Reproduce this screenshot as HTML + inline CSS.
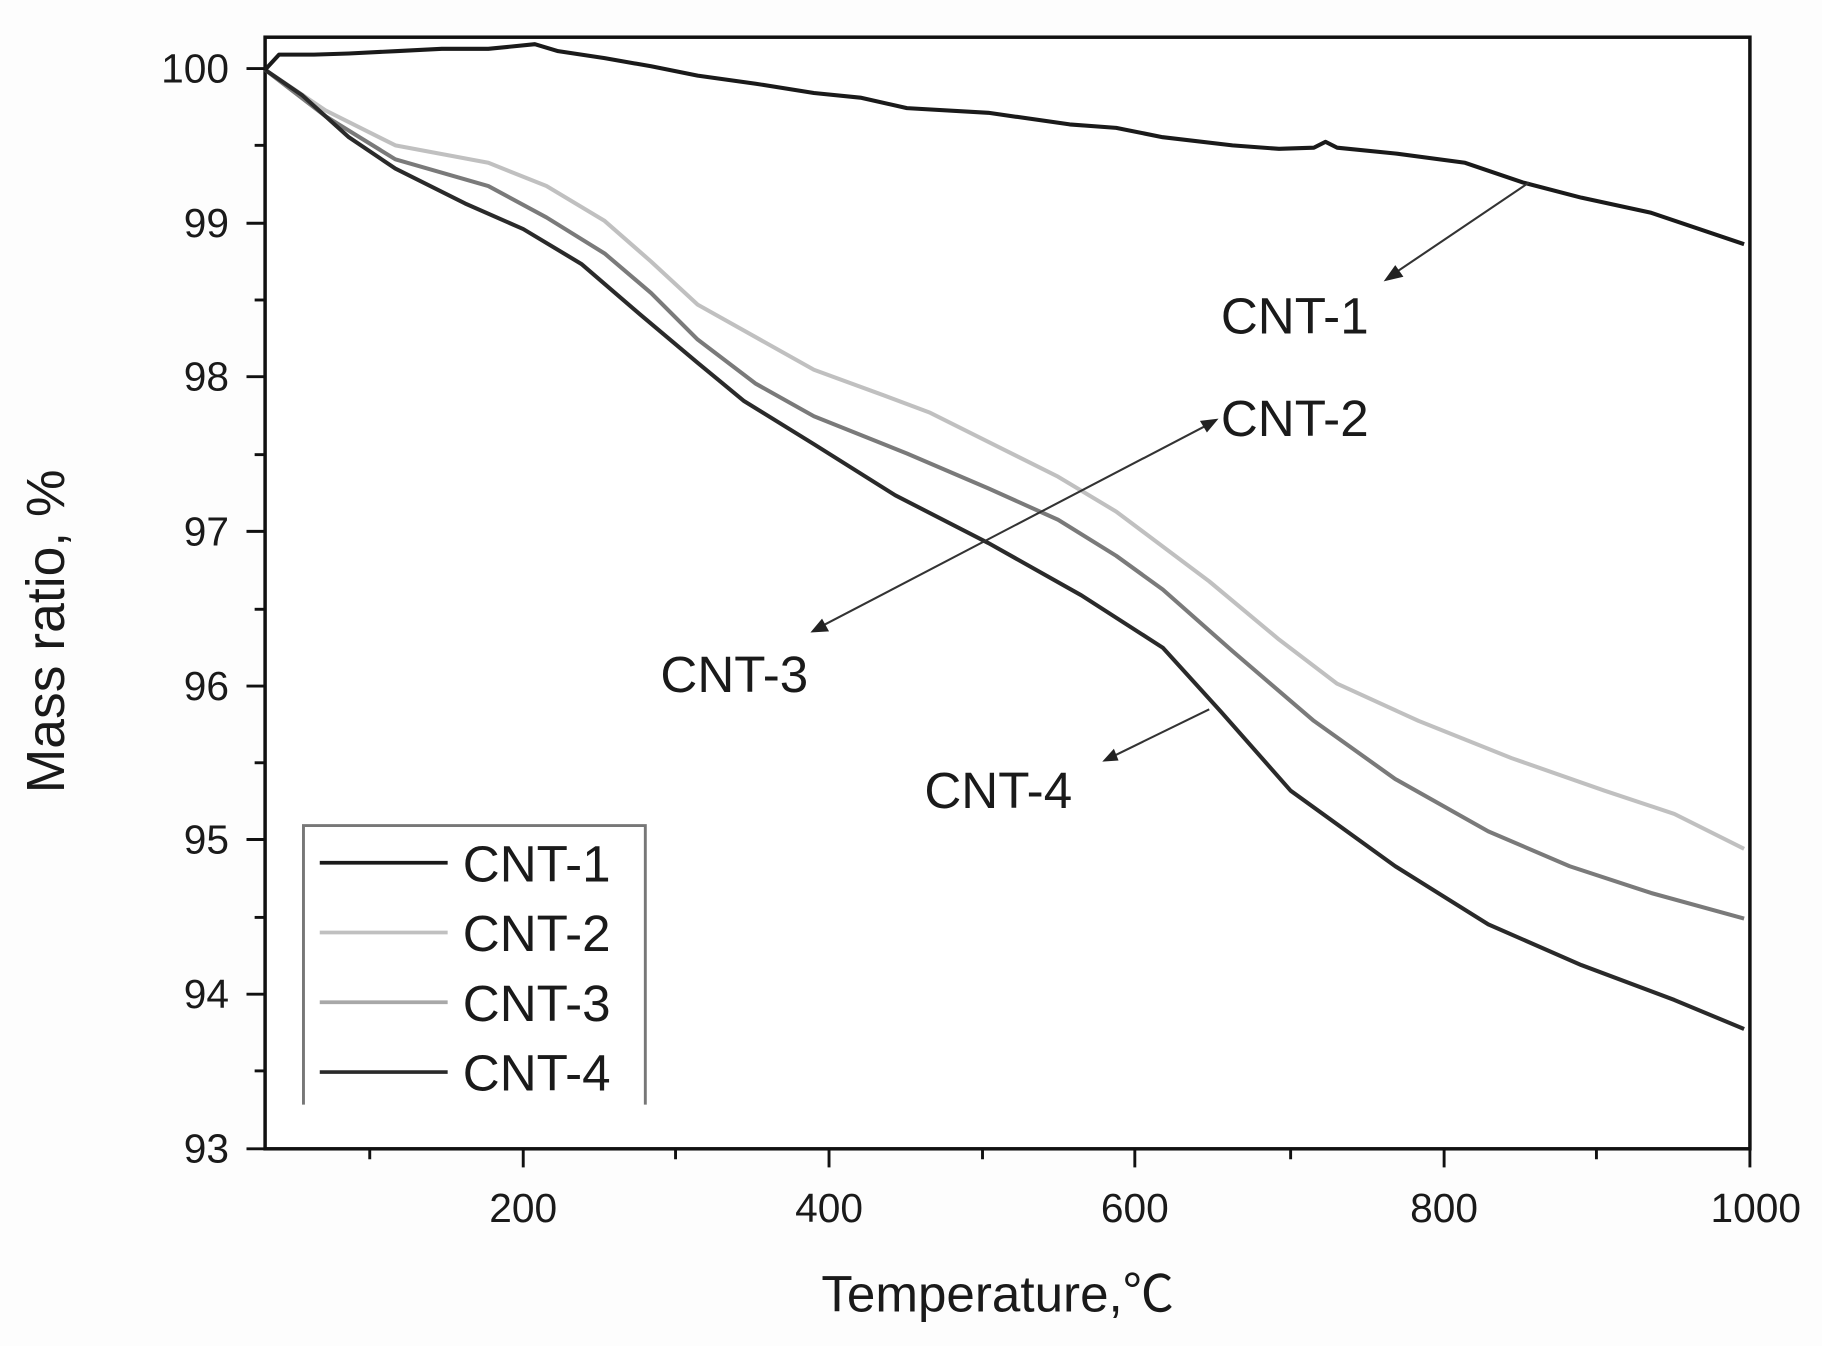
<!DOCTYPE html>
<html><head><meta charset="utf-8"><style>
html,body{margin:0;padding:0;background:#fdfdfd;}
svg{display:block;}
text{font-family:"Liberation Sans","Noto Sans CJK SC",sans-serif;fill:#1a1a1a;}
</style></head><body>
<svg width="1822" height="1346" viewBox="0 0 1567 1157.6" preserveAspectRatio="none" xmlns="http://www.w3.org/2000/svg">
<rect x="0" y="0" width="1567" height="1158" fill="#fdfdfd"/>
<rect x="228" y="32" width="1277" height="956" fill="#fff" stroke="#111" stroke-width="3"/>
<g stroke="#111" stroke-width="2.5">
<line x1="212" y1="59" x2="228" y2="59"/><line x1="212" y1="192" x2="228" y2="192"/>
<line x1="212" y1="324" x2="228" y2="324"/><line x1="212" y1="457" x2="228" y2="457"/>
<line x1="212" y1="590" x2="228" y2="590"/><line x1="212" y1="722" x2="228" y2="722"/>
<line x1="212" y1="855" x2="228" y2="855"/><line x1="212" y1="988" x2="228" y2="988"/>
<line x1="219" y1="125" x2="228" y2="125"/><line x1="219" y1="258" x2="228" y2="258"/>
<line x1="219" y1="391" x2="228" y2="391"/><line x1="219" y1="524" x2="228" y2="524"/>
<line x1="219" y1="656" x2="228" y2="656"/><line x1="219" y1="789" x2="228" y2="789"/>
<line x1="219" y1="921" x2="228" y2="921"/>
<line x1="450" y1="988" x2="450" y2="1004"/><line x1="713" y1="988" x2="713" y2="1004"/>
<line x1="976" y1="988" x2="976" y2="1004"/><line x1="1242" y1="988" x2="1242" y2="1004"/>
<line x1="1505" y1="988" x2="1505" y2="1004"/>
<line x1="318" y1="988" x2="318" y2="997"/><line x1="581" y1="988" x2="581" y2="997"/>
<line x1="845" y1="988" x2="845" y2="997"/><line x1="1110" y1="988" x2="1110" y2="997"/>
<line x1="1373" y1="988" x2="1373" y2="997"/>
</g>
<g font-size="35" text-anchor="end">
<text x="197" y="71">100</text><text x="197" y="204">99</text><text x="197" y="336">98</text>
<text x="197" y="469">97</text><text x="197" y="602">96</text><text x="197" y="734">95</text>
<text x="197" y="867">94</text><text x="197" y="1000">93</text>
</g>
<g font-size="35" text-anchor="middle">
<text x="450" y="1051">200</text><text x="713" y="1051">400</text><text x="976" y="1051">600</text>
<text x="1242" y="1051">800</text><text x="1510" y="1051">1000</text>
</g>
<text x="858" y="1128" font-size="44" text-anchor="middle">Temperature,℃</text>
<text transform="translate(55,543) rotate(-90)" font-size="46" text-anchor="middle">Mass ratio, %</text>
<g fill="none" stroke-linejoin="round">
<polyline stroke="#c0c0c0" stroke-width="3.5" points="228,60 280,95 340,125 420,140 470,160 520,190 560,225 600,262 650,290 700,318 760,340 800,355 860,385 910,410 960,440 1000,470 1040,500 1100,550 1150,588 1220,620 1300,652 1380,680 1440,700 1500,730"/>
<polyline stroke="#7a7a7a" stroke-width="3.5" points="228,60 280,100 340,137 420,160 470,187 520,218 560,252 600,292 650,330 700,358 780,390 850,420 910,447 960,478 1000,507 1060,560 1130,620 1200,670 1280,715 1350,745 1420,768 1500,790"/>
<polyline stroke="#2a2a2a" stroke-width="3.5" points="228,60 260,82 300,118 340,145 400,175 450,197 500,227 550,270 600,312 640,345 700,382 770,426 850,467 930,512 1000,557 1050,612 1110,680 1200,745 1280,795 1360,830 1440,860 1500,885"/>
<polyline stroke="#1a1a1a" stroke-width="3.5" points="228,60 240,47 270,47 300,46 340,44 380,42 420,42 460,38 480,44 520,50 560,57 600,65 650,72 700,80 740,84 780,93 850,97 920,107 960,110 1000,118 1060,125 1100,128 1130,127 1140,122 1150,127 1200,132 1260,140 1310,157 1360,170 1420,183 1500,210"/>
</g>
<g stroke="#333" stroke-width="1.8" fill="none">
<line x1="1315" y1="157" x2="1195" y2="238"/>
<line x1="700" y1="542" x2="1045" y2="362"/>
<line x1="1040" y1="610" x2="952" y2="653"/>
</g>
<g fill="#222">
<polygon points="1190,242 1200,228 1207,238"/>
<polygon points="1048,360 1032,362 1038,372"/>
<polygon points="697,544 707,532 713,543"/>
<polygon points="948,655 958,644 962,654"/>
</g>
<g font-size="44">
<text x="1050" y="287">CNT-1</text>
<text x="1050" y="375">CNT-2</text>
<text x="568" y="595">CNT-3</text>
<text x="795" y="695">CNT-4</text>
</g>
<polyline points="261,950 261,710 555,710 555,950" fill="none" stroke="#777" stroke-width="2.5"/>
<g stroke-width="3.2">
<line x1="275" y1="742" x2="385" y2="742" stroke="#1a1a1a"/>
<line x1="275" y1="802" x2="385" y2="802" stroke="#c0c0c0"/>
<line x1="275" y1="862" x2="385" y2="862" stroke="#a8a8a8"/>
<line x1="275" y1="922" x2="385" y2="922" stroke="#2a2a2a"/>
</g>
<g font-size="44">
<text x="398" y="758">CNT-1</text>
<text x="398" y="818">CNT-2</text>
<text x="398" y="878">CNT-3</text>
<text x="398" y="938">CNT-4</text>
</g>
</svg>
</body></html>
